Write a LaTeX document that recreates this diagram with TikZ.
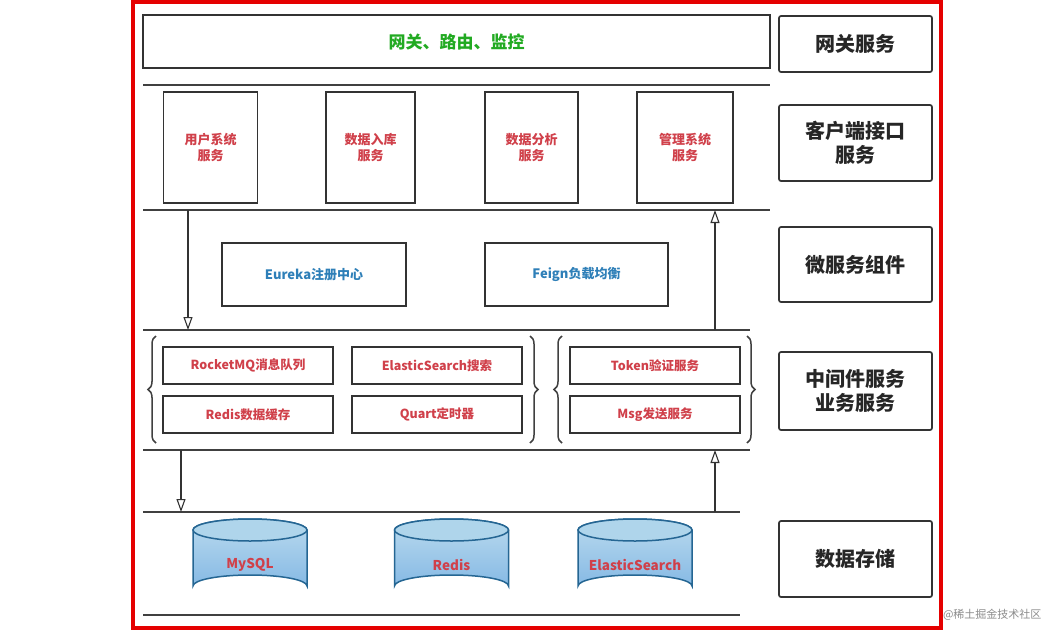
\documentclass[tikz,border=0pt]{standalone}
\usepackage{fontspec}
\setmainfont{Noto Sans CJK SC}
\usetikzlibrary{shapes.geometric,arrows.meta,decorations.pathreplacing}
\definecolor{lred}{HTML}{D0404A}
\definecolor{lblue}{HTML}{2E7FB8}
\definecolor{lgreen}{HTML}{22AA22}
\definecolor{cyl}{HTML}{8DC3E3}
\begin{document}
\begin{tikzpicture}[x=1pt,y=-1pt,
  box/.style={draw=black!80,line width=1.7pt,inner sep=0pt},
  lab/.style={box,rounded corners=2pt,font=\bfseries\fontsize{20}{24}\selectfont,align=center,text=black!85},
  mid/.style={box,minimum width=170pt,minimum height=37pt,text=lred,font=\bfseries\fontsize{12.5}{14}\selectfont},
  sep/.style={line width=1.7pt,black!75},
  arr/.style={line width=1.1pt,black!80,-{Triangle[open,length=13pt,width=9pt]}},
  brace/.style={decorate,decoration={brace,amplitude=8pt},line width=1.5pt,black!75},
  dbtxt/.style={text=lred,font=\bfseries\fontsize{13.5}{15}\selectfont,inner sep=0pt}]
\useasboundingbox (0,0) rectangle (1054,635);
\fill[white] (0,0) rectangle (1054,635);
\draw[red!90!black,line width=3.5pt] (133,2) rectangle (941,628);
% gateway
\node[box,minimum width=627pt,minimum height=53pt,text=lgreen,font=\bfseries\fontsize{17}{18}\selectfont] (gw) at (456.5,41.5) {网关、路由、监控};
% right labels
\node[lab,minimum width=153pt,minimum height=56pt] (l1) at (855.5,44) {网关服务};
\node[lab,minimum width=153pt,minimum height=76pt] (l2) at (855.5,143) {客户端接口\\服务};
\node[lab,minimum width=153pt,minimum height=75pt] (l3) at (855.5,264.5) {微服务组件};
\node[lab,minimum width=153pt,minimum height=78pt] (l4) at (855.5,391) {中间件服务\\业务服务};
\node[lab,minimum width=153pt,minimum height=76pt] (l5) at (855.5,559) {数据存储};
% separators
\coordinate (s1a) at (143,85); \coordinate (s1b) at (770,85);
\coordinate (s2a) at (143,210); \coordinate (s2b) at (770,210);
\coordinate (s3a) at (143,330); \coordinate (s3b) at (750,330);
\coordinate (s4a) at (143,450); \coordinate (s4b) at (750,450);
\coordinate (s5a) at (143,512); \coordinate (s5b) at (740,512);
\coordinate (s6a) at (143,615); \coordinate (s6b) at (740,615);
\foreach \p in {1,...,6} \draw[sep] (s\p a) -- (s\p b);
% client boxes
\tikzset{cl/.style={box,minimum width=94pt,minimum height=111pt,text=lred,align=center,font=\bfseries\fontsize{13}{16}\selectfont}}
\node[cl] (c1) at (210.5,147.5) {用户系统\\服务};
\node[cl,minimum width=89pt] (c2) at (370.5,147.5) {数据入库\\服务};
\node[cl,minimum width=93pt] (c3) at (531.5,147.5) {数据分析\\服务};
\node[cl,minimum width=96pt] (c4) at (685,147.5) {管理系统\\服务};
% components
\node[box,minimum width=184pt,minimum height=63pt,text=lblue,font=\bfseries\fontsize{13}{14}\selectfont] (eu) at (314,274.5) {Eureka注册中心};
\node[box,minimum width=183pt,minimum height=63pt,text=lblue,font=\bfseries\fontsize{13}{14}\selectfont] (fe) at (576.5,274.5) {Feign负载均衡};
% arrows
\coordinate (a1s) at (188,210); \coordinate (a1e) at (188,330);
\coordinate (a2s) at (715,330); \coordinate (a2e) at (715,210);
\coordinate (a3s) at (181,450); \coordinate (a3e) at (181,512);
\coordinate (a4s) at (715,512); \coordinate (a4e) at (715,450);
\draw[arr] (a1s) -- (a1e);
\draw[arr] (a2s) -- (a2e);
\draw[arr] (a3s) -- (a3e);
\draw[arr] (a4s) -- (a4e);
% middleware
\node[mid] (m1) at (248,365.5) {RocketMQ消息队列};
\node[mid] (m2) at (437,365.5) {ElasticSearch搜索};
\node[mid] (m3) at (248,414.5) {Redis数据缓存};
\node[mid] (m4) at (437,414.5) {Quart定时器};
\node[mid] (m5) at (655,365.5) {Token验证服务};
\node[mid] (m6) at (655,414.5) {Msg发送服务};
\coordinate (b1a) at (156,443); \coordinate (b1b) at (156,336);
\coordinate (b2a) at (530,336); \coordinate (b2b) at (530,443);
\coordinate (b3a) at (562,443); \coordinate (b3b) at (562,336);
\coordinate (b4a) at (747,336); \coordinate (b4b) at (747,443);
\draw[brace] (b1a) -- (b1b);
\draw[brace] (b2a) -- (b2b);
\draw[brace] (b3a) -- (b3b);
\draw[brace] (b4a) -- (b4b);
% databases
\foreach \cx/\nm/\txt in {250/d1/MySQL,451.5/d2/Redis,635/d3/ElasticSearch}{
  \begin{scope}[shift={(\cx,0)}]
  \draw[draw=lblue!80!black,line width=1.5pt,top color=cyl!60,bottom color=cyl!95!blue]
    (-57,530) -- (-57,586) arc[start angle=180,end angle=360,x radius=57,y radius=11] -- (57,530)
    arc[start angle=0,end angle=-180,x radius=57,y radius=11] -- cycle;
  \draw[draw=lblue!80!black,line width=1.5pt,fill=cyl!70] (0,530) ellipse[x radius=57,y radius=11];
  \node[dbtxt] (\nm) at (0,565) {\txt};
  \end{scope}}
\node[text=black!45,font=\fontsize{11}{13}\selectfont,anchor=east] (wm) at (1045,615) {@稀土掘金技术社区};
\end{tikzpicture}
\end{document}
